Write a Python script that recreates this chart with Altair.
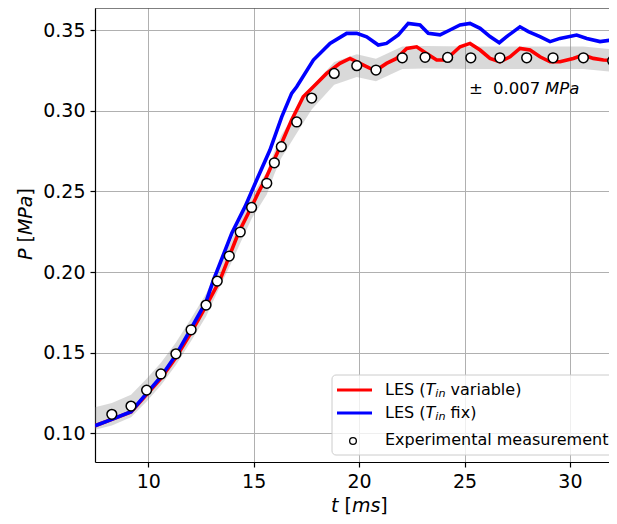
import altair as alt
import pandas as pd

FONT = "DejaVu Sans"

# ---------------- data ----------------
exp_t = [8.27, 9.18, 9.92, 10.60, 11.31, 12.03, 12.74, 13.27, 13.84, 14.36, 14.90,
         15.62, 15.98, 16.31, 17.04, 17.75, 18.82, 19.89, 20.80, 22.05, 23.13,
         24.20, 25.30, 26.68, 27.95, 29.20, 30.64, 32.03]
exp_p = [0.1118, 0.1169, 0.1268, 0.1368, 0.1493, 0.1642, 0.1795, 0.1944, 0.2099,
         0.2248, 0.2400, 0.2550, 0.2677, 0.2777, 0.2930, 0.3078, 0.3231, 0.3279,
         0.3252, 0.3328, 0.3331, 0.3330, 0.3328, 0.3328, 0.3328, 0.3328, 0.3328,
         0.3310]

# grey uncertainty band (centre) and its half width
band_t = [7.40] + exp_t + [32.40]
band_c = [0.1090] + exp_p + [0.3298]
band_half = 0.007

# LES (T_in fix) - blue
fix_t = [7.47, 8.27, 9.18, 9.92, 10.60, 11.31, 12.03, 12.74, 13.09, 13.96, 14.59,
         15.14, 15.77, 16.33, 16.80, 17.04, 17.83, 18.62, 19.41, 19.89, 20.36,
         20.91, 21.30, 21.86, 22.33, 22.89, 23.28, 23.84, 24.31, 24.79, 25.26,
         25.74, 26.21, 26.65, 27.00, 27.63, 28.03, 28.58, 29.06, 29.53, 30.32,
         30.80, 31.43, 32.22]
fix_p = [0.1047, 0.1087, 0.1134, 0.1248, 0.1351, 0.1485, 0.1651, 0.1816, 0.1950,
         0.2240, 0.2405, 0.2570, 0.2756, 0.2962, 0.3107, 0.3148, 0.3314, 0.3417,
         0.3479, 0.3480, 0.3458, 0.3407, 0.3417, 0.3469, 0.3541, 0.3531, 0.3480,
         0.3470, 0.3500, 0.3531, 0.3541, 0.3510, 0.3459, 0.3421, 0.3459, 0.3520,
         0.3490, 0.3459, 0.3428, 0.3448, 0.3469, 0.3448, 0.3428, 0.3442]

# LES (T_in variable) - red
var_t = [7.47, 8.27, 9.18, 9.92, 10.60, 11.31, 12.03, 12.74, 13.40, 14.27, 14.98,
         15.25, 15.54, 16.25, 16.80, 17.35, 17.83, 18.46, 19.09, 19.57, 20.04,
         20.52, 20.83, 21.30, 21.78, 22.26, 22.73, 23.20, 23.68, 24.16, 24.40,
         24.79, 25.26, 25.74, 26.21, 26.68, 27.16, 27.63, 28.11, 28.58, 29.06,
         29.53, 30.16, 30.64, 31.11, 31.59, 32.23]
var_p = [0.1047, 0.1087, 0.1132, 0.1240, 0.1340, 0.1470, 0.1625, 0.1790, 0.1950,
         0.2240, 0.2426, 0.2500, 0.2570, 0.2777, 0.2942, 0.3086, 0.3148, 0.3231,
         0.3293, 0.3324, 0.3293, 0.3262, 0.3252, 0.3293, 0.3324, 0.3386, 0.3396,
         0.3355, 0.3314, 0.3314, 0.3350, 0.3396, 0.3417, 0.3376, 0.3324, 0.3303,
         0.3334, 0.3386, 0.3376, 0.3334, 0.3303, 0.3303, 0.3324, 0.3345, 0.3324,
         0.3314, 0.3310]

x_ticks = [10, 15, 20, 25, 30]
y_ticks = [0.10, 0.15, 0.20, 0.25, 0.30, 0.35]

# ---------------- layout ----------------
W, H = 514, 454
X_DOM = [7.4715, 7.4715 + W / 21.08]
Y_DOM = [0.08224, 0.36364]

xs = alt.Scale(domain=X_DOM, nice=False, zero=False)
ys = alt.Scale(domain=Y_DOM, nice=False, zero=False)

band_df = pd.DataFrame({"t": band_t,
                        "lo": [c - band_half for c in band_c],
                        "hi": [c + band_half for c in band_c]})
fix_df = pd.DataFrame({"t": fix_t, "p": fix_p})
var_df = pd.DataFrame({"t": var_t, "p": var_p})
exp_df = pd.DataFrame({"t": exp_t, "p": exp_p})
dummy = pd.DataFrame({"a": [0]})

x_axis = alt.Axis(values=x_ticks, format="d", title=None, grid=True)
y_axis = alt.Axis(values=y_ticks, format=".2f", title=None, grid=True)

band = alt.Chart(band_df).mark_area(color="#808080", opacity=0.3, clip=True).encode(
    x=alt.X("t:Q", scale=xs, axis=x_axis),
    y=alt.Y("lo:Q", scale=ys, axis=y_axis),
    y2="hi:Q",
)

red = alt.Chart(var_df).mark_line(color="#ff0000", strokeWidth=3.6, clip=True).encode(
    x=alt.X("t:Q", scale=xs), y=alt.Y("p:Q", scale=ys))
blue = alt.Chart(fix_df).mark_line(color="#0000ff", strokeWidth=3.6, clip=True).encode(
    x=alt.X("t:Q", scale=xs), y=alt.Y("p:Q", scale=ys))

pts = alt.Chart(exp_df).mark_circle(color="white", stroke="black", strokeWidth=1.5,
                                    size=95, opacity=1, clip=True).encode(
    x=alt.X("t:Q", scale=xs), y=alt.Y("p:Q", scale=ys))

top_spine = alt.Chart(dummy).mark_rule(color="black", strokeWidth=1.2).encode(
    x=alt.value(0), x2=alt.value(W), y=alt.value(0))


def txt(s, x, y, size=16, italic=False, align="left", baseline="middle", angle=0):
    kw = dict(text=s, font=FONT, fontSize=size, color="black", align=align,
              baseline=baseline)
    if italic:
        kw["fontStyle"] = "italic"
    if angle:
        kw["angle"] = angle
    return alt.Chart(dummy).mark_text(**kw).encode(x=alt.value(x), y=alt.value(y))


# legend box
leg_box = alt.Chart(dummy).mark_rect(fill="white", fillOpacity=0.8, stroke="#cccccc",
                                     strokeWidth=1, cornerRadius=4).encode(
    x=alt.value(237), x2=alt.value(560), y=alt.value(367), y2=alt.value(447))
leg_red = alt.Chart(dummy).mark_rule(color="#ff0000", strokeWidth=3).encode(
    x=alt.value(242), x2=alt.value(277), y=alt.value(382))
leg_blue = alt.Chart(dummy).mark_rule(color="#0000ff", strokeWidth=3).encode(
    x=alt.value(242), x2=alt.value(277), y=alt.value(405))
leg_pt = alt.Chart(dummy).mark_point(shape="circle", filled=True, fill="white",
                                     stroke="black", strokeWidth=1.3, size=45,
                                     opacity=1).encode(
    x=alt.value(258), y=alt.value(433))

LS = 16
SP = 0.318  # DejaVu space width (em)


def les_label(rest, y):
    x0 = 290
    xT = x0 + 2.532 * LS
    xin = xT + 0.611 * LS
    xrest = xin + 0.912 * 11.2 + SP * LS
    return [txt("LES (", x0, y, LS), txt("T", xT, y, LS, italic=True),
            txt("in", xin, y + 4, 11.2, italic=True), txt(rest, xrest, y, LS)]


legend_layers = [leg_box, leg_red, leg_blue, leg_pt] + les_label("variable)", 382) + \
    les_label("fix)", 405) + [txt("Experimental measurement", 290, 432, LS)]

# annotation
ann = [txt("\u00b1", 374, 81, 16.5), txt("0.007", 398, 81, 16.5),
       txt("MPa", 450, 81, 16.5, italic=True)]

# axis titles (mixed italic), pieces placed with DejaVu Sans advance widths
AF = 19
xt0 = 236
xb = 504
x_title = [txt("t", xt0, xb, AF, italic=True, baseline="alphabetic"),
           txt("[", xt0 + (0.392 + SP) * AF, xb, AF, baseline="alphabetic"),
           txt("ms", xt0 + 1.100 * AF, xb, AF, italic=True, baseline="alphabetic"),
           txt("]", xt0 + 2.595 * AF, xb, AF, baseline="alphabetic")]
yt0 = 252
ybx = -63
y_title = [txt("P", ybx, yt0, AF, italic=True, baseline="alphabetic", angle=270),
           txt("[", ybx, yt0 - (0.603 + SP) * AF, AF, baseline="alphabetic", angle=270),
           txt("MPa", ybx, yt0 - 1.311 * AF, AF, italic=True, baseline="alphabetic", angle=270),
           txt("]", ybx, yt0 - 3.390 * AF, AF, baseline="alphabetic", angle=270)]

chart = alt.layer(band, red, blue, pts, top_spine, *legend_layers, *ann,
                  *x_title, *y_title).properties(
    width=W, height=H,
    autosize=alt.AutoSizeParams(type="none"),
    padding={"left": 87, "top": 0, "right": 0, "bottom": 54},
).configure_view(stroke=None).configure_axis(
    labelFont=FONT, labelFontSize=19, labelColor="black",
    tickColor="black", tickSize=5, tickWidth=1.2, labelPadding=5,
    domainColor="black", domainWidth=1.2,
    gridColor="#b0b0b0", gridWidth=1,
)

chart.save("out.html", embed_options={"renderer": "svg", "actions": False})
